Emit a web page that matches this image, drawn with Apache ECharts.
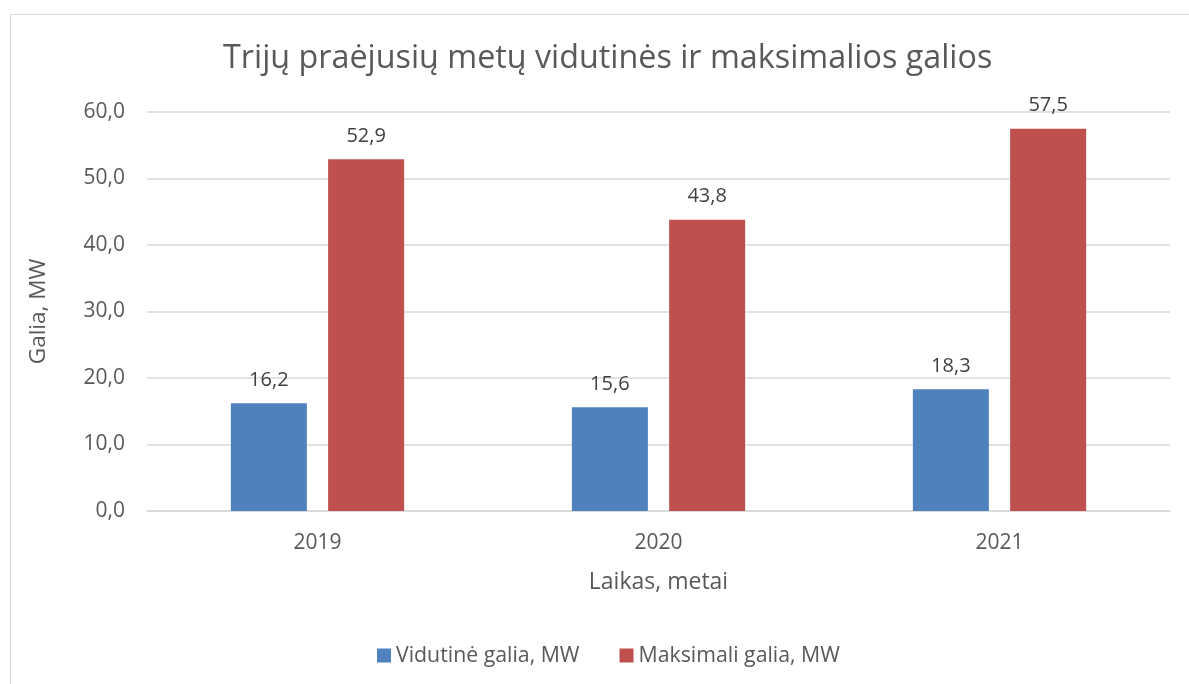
<!DOCTYPE html>
<html><head><meta charset="utf-8">
<script src="https://cdn.jsdelivr.net/npm/echarts@6/dist/echarts.min.js"></script>
<style>html,body{margin:0;padding:0;background:#fff}#c{width:1189px;height:684px}</style>
</head><body><div id="c"></div>
<script>
const categories = ['2019', '2020', '2021'];
const avgPower = [16.2, 15.6, 18.3];
const maxPower = [52.9, 43.8, 57.5];
const seriesNames = ['Vidutinė galia, MW', 'Maksimali galia, MW'];

const font = '"Open Sans", "Noto Sans", sans-serif';
const fmt = v => v.toFixed(1).replace('.', ',');
const chart = echarts.init(document.getElementById('c'));
chart.setOption({
  animation: false,
  textStyle: { fontFamily: font },
  graphic: [{ type: 'rect', left: 8, top: 12, shape: { width: 1200, height: 700 }, style: { fill: 'none', stroke: '#d9d9d9', lineWidth: 1 }, silent: true }],
  title: { text: 'Trijų praėjusių metų vidutinės ir maksimalios galios', left: 218, top: 38,
    textStyle: { fontFamily: font, fontSize: 32.3, fontWeight: 'normal', color: '#595959' } },
  legend: { top: 640, left: 372, itemWidth: 14, itemHeight: 14, itemGap: 40, icon: 'rect',
    textStyle: { fontFamily: font, fontSize: 21.3, color: '#595959' } },
  grid: { left: 147, right: 19, top: 112, bottom: 173 },
  xAxis: { type: 'category', data: categories,
    name: 'Laikas, metai', nameLocation: 'middle', nameGap: 60,
    nameTextStyle: { fontFamily: font, fontSize: 23, color: '#595959' },
    axisLine: { lineStyle: { color: '#d9d9d9', width: 1.5 } }, axisTick: { show: false },
    axisLabel: { fontFamily: font, fontSize: 21, color: '#595959', margin: 22 } },
  yAxis: { type: 'value', min: 0, max: 60, interval: 10,
    name: 'Galia, MW', nameLocation: 'middle', nameGap: 97,
    nameTextStyle: { fontFamily: font, fontSize: 22.5, color: '#595959' },
    axisLine: { show: false }, axisTick: { show: false },
    splitLine: { lineStyle: { color: '#d9d9d9', width: 1.5 } },
    axisLabel: { fontFamily: font, fontSize: 21, color: '#595959', margin: 22, formatter: fmt } },
  series: [
    { name: seriesNames[0], type: 'bar', data: avgPower, barWidth: 76, barGap: '28%',
      itemStyle: { color: '#4F81BD' },
      label: { show: true, position: 'top', distance: 13, formatter: p => fmt(p.value), fontFamily: font, fontSize: 20, color: '#404040' } },
    { name: seriesNames[1], type: 'bar', data: maxPower, barWidth: 76,
      itemStyle: { color: '#C0504D' },
      label: { show: true, position: 'top', distance: 13, formatter: p => fmt(p.value), fontFamily: font, fontSize: 20, color: '#404040' } }
  ]
});
</script></body></html>
